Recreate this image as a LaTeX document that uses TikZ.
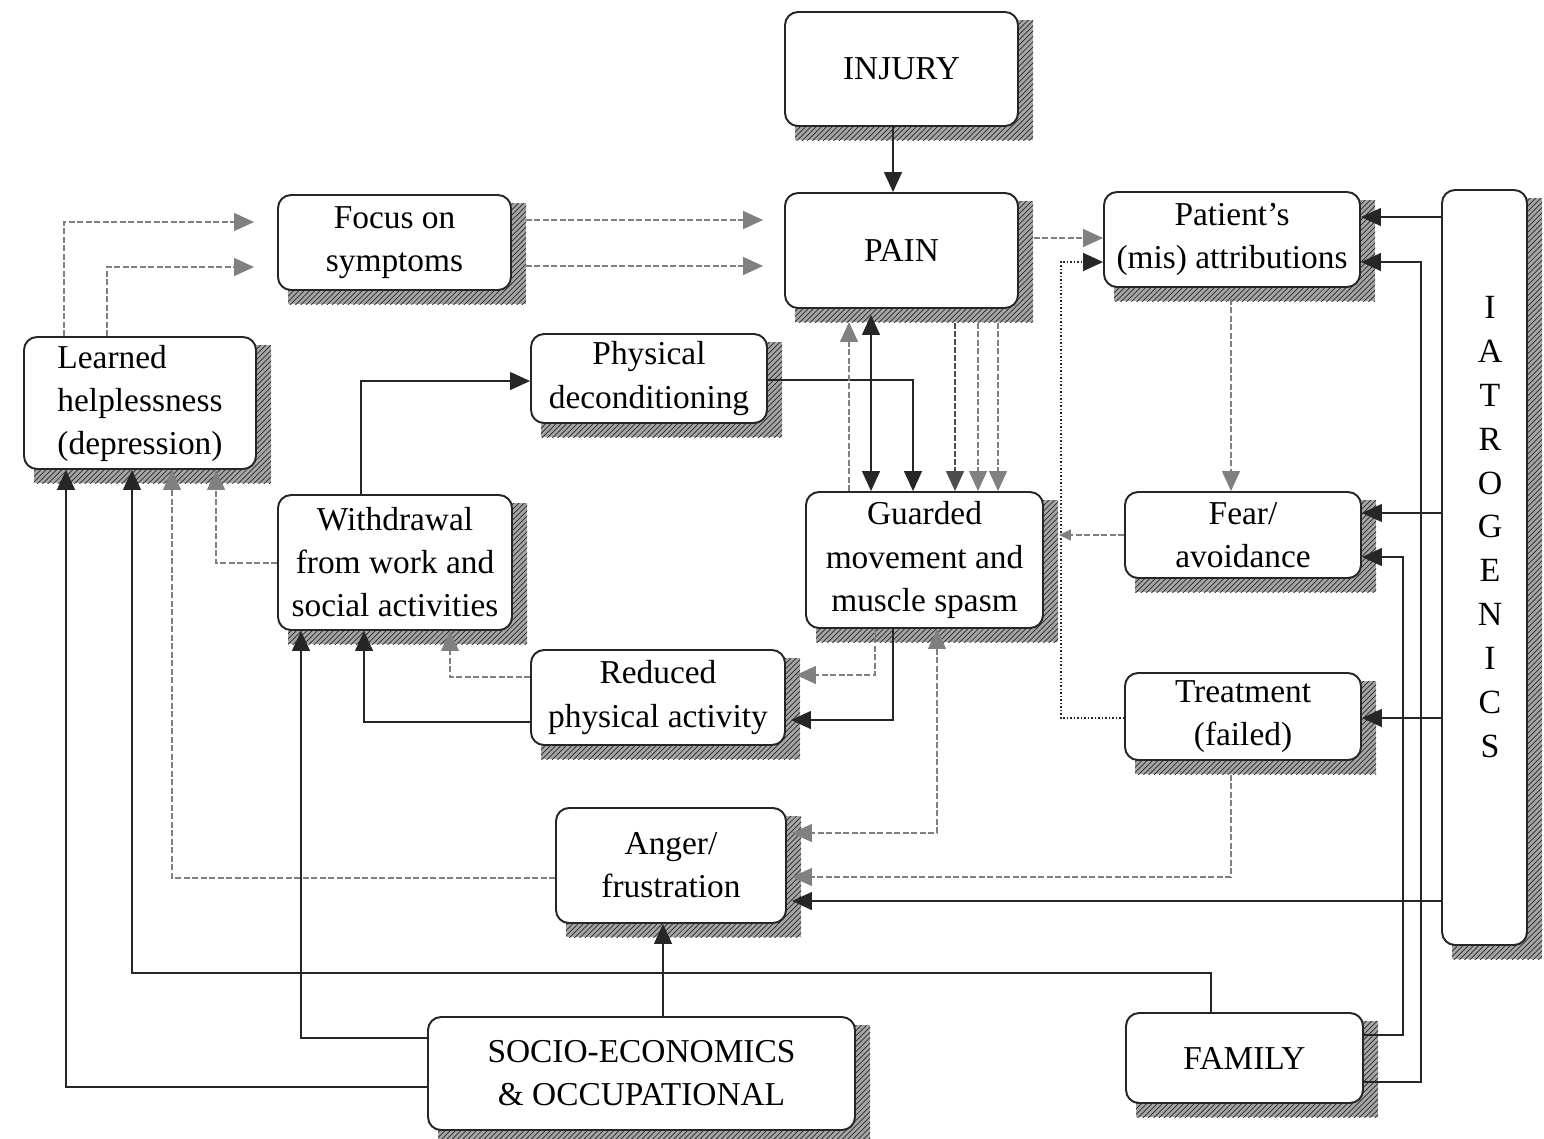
\documentclass[tikz,border=0pt]{standalone}
\usepackage{fontspec}
\setmainfont{Liberation Serif}
\usetikzlibrary{arrows.meta,patterns}
\newcommand\shbox[6]{%
  \fill[shdbase] (#2+10,#3+8) rectangle (#4+15,#5+14);
  \fill[shd] (#2+10,#3+8) rectangle (#4+15,#5+14);
  \pgfmathsetmacro\pbW{(#4-#2)*0.2}%
  \pgfmathsetmacro\pbH{(#5-#3)*0.2}%
  \node[bx, minimum width=\pbW mm, minimum height=\pbH mm] (#1) at ({(#2+#4)/2},{(#3+#5)/2}) {#6};}
\begin{document}
\begin{tikzpicture}[x=0.2mm,y=-0.2mm,
  >={Triangle[length=4mm,width=3.6mm]},
  shdbase/.style={fill=black!35},
  shd/.style={pattern=north east lines, pattern color=black!85},
  bx/.style={draw=black!85, line width=1.1pt, rounded corners=2.6mm, fill=white,
    inner sep=0pt, align=center, font=\fontsize{19}{24.5}\selectfont},
  sol/.style={draw=black!85, line width=0.8pt, ->},
  dsh/.style={draw=black!50, line width=0.8pt, dash pattern=on 1.2mm off 0.5mm, ->},
  dshdark/.style={draw=black!70, line width=0.8pt, dash pattern=on 1.2mm off 0.4mm, ->},
  dotl/.style={draw=black!75, line width=0.9pt, dash pattern=on 0.25mm off 0.45mm, ->}
]
\path[use as bounding box, fill=white] (0,0) rectangle (1544,1138);

% boxes
\shbox{injury}{785}{12}{1018}{126}{INJURY}
\shbox{pain}{785}{193}{1018}{308}{PAIN}
\shbox{focus}{278}{195}{511}{290}{Focus on\\symptoms}
\shbox{learned}{24}{337}{256}{469}{\begin{tabular}{@{}l@{}}Learned\\helplessness\\(depression)\end{tabular}}
\shbox{physical}{531}{334}{767}{423}{Physical\\deconditioning}
\shbox{withdrawal}{278}{495}{512}{630}{Withdrawal\\from work and\\social activities}
\shbox{guarded}{806}{492}{1043}{628}{Guarded\\movement and\\muscle spasm}
\shbox{reduced}{531}{650}{785}{745}{Reduced\\physical activity}
\shbox{anger}{556}{808}{786}{923}{Anger/\\frustration}
\shbox{socio}{428}{1017}{855}{1130}{SOCIO-ECONOMICS\\\&~OCCUPATIONAL}
\shbox{family}{1126}{1013}{1363}{1103}{FAMILY}
\shbox{patients}{1104}{192}{1360}{287}{Patient’s\\(mis) attributions}
\shbox{fear}{1125}{492}{1361}{578}{Fear/\\avoidance}
\shbox{treatment}{1125}{673}{1361}{760}{Treatment\\(failed)}
\shbox{iatro}{1442}{190}{1527}{945}{}
\node[font=\fontsize{19.3}{24.93}\selectfont, align=center, inner sep=0pt] (iatrotext) at (1490,527) {I\\A\\T\\R\\O\\G\\E\\N\\I\\C\\S};

% waypoints
\coordinate (f1) at (1403,557);
\coordinate (f2) at (1421,262);
\coordinate (w1) at (132,973);
\coordinate (t1) at (1061,262);

% connectors
\draw[sol] (injury.south -| 893,0) -- (pain.north -| 893,0);
\draw[dsh, shorten <=2.8mm, shorten >=4.2mm] (focus.east |- 0,220) -- (pain.west |- 0,220);
\draw[dsh, shorten <=2.8mm, shorten >=4.2mm] (focus.east |- 0,266) -- (pain.west |- 0,266);
\draw[dsh, shorten >=4.6mm] (learned.north -| 64,0) |- (focus.west |- 0,222);
\draw[dsh, shorten >=4.6mm] (learned.north -| 107,0) |- (focus.west |- 0,267);
\draw[sol] (withdrawal.north -| 361,0) |- (physical.west |- 0,381);
\draw[sol] (physical.east |- 0,380) -| (guarded.north -| 913,0);
\draw[sol, <->, shorten >=1.2mm] (guarded.north -| 871,0) -- (pain.south -| 871,0);
\draw[dsh, shorten >=2.6mm] (guarded.north -| 849,0) -- (pain.south -| 849,0);
\draw[dshdark, shorten <=2.8mm] (pain.south -| 955,0) -- (guarded.north -| 955,0);
\draw[dsh, shorten <=2.8mm] (pain.south -| 978,0) -- (guarded.north -| 978,0);
\draw[dsh, shorten <=2.8mm] (pain.south -| 998,0) -- (guarded.north -| 998,0);
\draw[dsh, shorten >=2mm] (guarded.south -| 875,0) |- (reduced.east |- 0,675);
\draw[sol, shorten >=1mm] (guarded.south -| 893,0) |- (reduced.east |- 0,720);
\draw[dsh, <->, shorten >=1mm] (guarded.south -| 937,0) |- (anger.east |- 0,833);
\draw[dsh, shorten <=2.8mm, shorten >=1mm] (treatment.south -| 1231,0) |- (anger.east |- 0,877);
\draw[sol, shorten >=1mm] (iatro.west |- 0,901) -- (anger.east |- 0,901);
\draw[sol] (iatro.west |- 0,217) -- (patients.east |- 0,217);
\draw[sol] (iatro.west |- 0,513) -- (fear.east |- 0,513);
\draw[sol] (iatro.west |- 0,718) -- (treatment.east |- 0,718);
\draw[sol] (family.east |- 0,1035) -| (f1) -- (fear.east |- f1);
\draw[sol] (family.east |- 0,1082) -| (f2) -- (patients.east |- f2);
\draw[sol] (family.north -| 1211,0) |- (w1) -- (learned.south -| w1);
\draw[sol] (socio.west |- 0,1087) -| (learned.south -| 66,0);
\draw[sol] (socio.west |- 0,1038) -| (withdrawal.south -| 301,0);
\draw[sol] (socio.north -| 663,0) -- (anger.south -| 663,0);
\draw[dsh] (anger.west |- 0,878) -| (learned.south -| 172,0);
\draw[dsh] (withdrawal.west |- 0,563) -| (learned.south -| 216,0);
\draw[sol] (reduced.west |- 0,722) -| (withdrawal.south -| 364,0);
\draw[dsh] (reduced.west |- 0,677) -| (withdrawal.south -| 450,0);
\draw[dsh, shorten <=3mm] (pain.east |- 0,238) -- (patients.west |- 0,238);
\draw[dotl, draw=black!85] (treatment.west |- 0,718) -| (t1) -- (patients.west |- t1);
\draw[dsh, shorten >=3mm, >={Triangle[length=2.4mm,width=2.2mm]}] (fear.west |- 0,535) -- (guarded.east |- 0,535);
\draw[dsh, shorten <=2.2mm] (patients.south -| 1231,0) -- (fear.north -| 1231,0);
\end{tikzpicture}
\end{document}
